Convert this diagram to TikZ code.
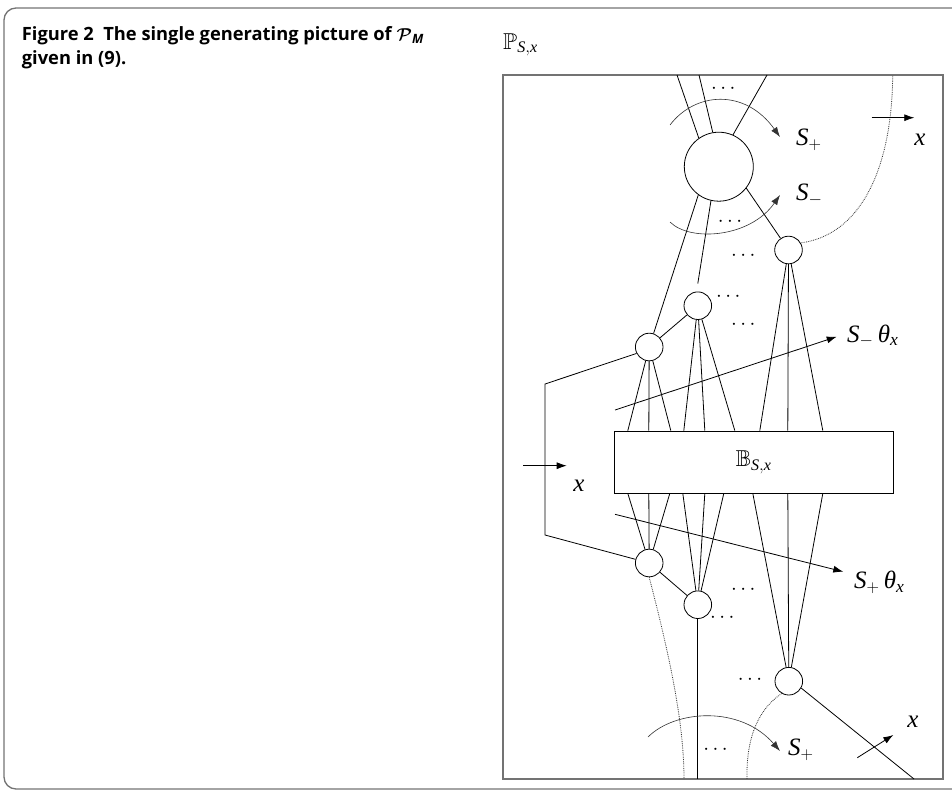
\documentclass[tikz,border=0pt]{standalone}
\usepackage{amsmath}
\usepackage{amssymb}
\usepackage{bm}
\usepackage{fontspec}
\setmainfont{Liberation Serif}
\setsansfont{Open Sans}
\usepackage{tikz}
\usetikzlibrary{arrows.meta, positioning}
\definecolor{cframe}{rgb}{0.45,0.45,0.45}
\definecolor{ctrace}{rgb}{0.2,0.2,0.2}
\newcommand{\vS}{\textit{S}}
\newcommand{\vx}{\textit{x}}
\tikzset{
Vertex/.style={
	draw, circle,
	line width=0.8pt,
	minimum size=27.6pt,
	inner sep=0pt
},
BigVertex/.style={
	Vertex,
	minimum size=69pt
},
Edge/.style={
	draw=black,
	line width=0.8pt
},
Trace/.style={
	draw=ctrace,
	line width=0.8pt,
	densely dotted
},
Sweep/.style={
	draw=ctrace,
	line width=0.6pt,
	-{Latex[length=10pt,width=7pt]}
},
Move/.style={
	Edge,
	-{Latex[length=10pt,width=7pt]}
},
Block/.style={
	draw,
	line width=0.8pt,
	minimum width=279pt,
	minimum height=62pt,
	font=\fontsize{23}{27}\selectfont
},
Lbl/.style={
	inner sep=0pt,
	font=\fontsize{25}{29}\selectfont
},
Dots/.style={
	inner sep=0pt,
	font=\fontsize{22}{26}\selectfont
},
Caption/.style={
	inner sep=0pt,
	anchor=base west,
	font=\sffamily\bfseries\fontsize{18.3}{21}\selectfont
}
}

\begin{document}
\begin{tikzpicture}[x=1pt, y=-1pt]
	\clip (0,0) rectangle (952,795);
	\draw[cframe, line width=1.3pt, rounded corners=12pt] (4,8) rectangle (990,789);
	\draw[cframe, line width=1.5pt] (503,75) rectangle (943,779);

	\node[Caption] (title1) at (21.7,40) {Figure 2\ \ The single generating picture of $\bm{\mathcal{P}}_{\textit{M}}$};
	\node[Caption] (title2) at ([yshift=-24.5pt]title1.base west) {given in (9).};
	\node[Lbl, anchor=base west, font=\fontsize{23}{27}\selectfont] (pname) at (503,49) {$\mathbb{P}_{\vS,\vx}$};

	\node[BigVertex] (big) at (718.8,166.7) {};
	\node[Vertex] (cr) at (788.5,250) {};
	\node[Vertex] (cb) at (697.8,305.7) {};
	\node[Vertex] (ca) at (649.2,347) {};
	\node[Block] (box) at (753.7,462) {$\mathbb{B}_{\vS,\vx}$};
	\node[Vertex] (cd) at (649.2,563) {};
	\node[Vertex] (ce) at (697.8,604.7) {};
	\node[Vertex] (cf) at (788.8,681.2) {};

	\coordinate (top1) at (677,75);
	\coordinate (top2) at (699,75);
	\coordinate (top3) at (767,75);
	\coordinate (tr) at (892.7,75);
	\coordinate (lt) at (545,384);
	\coordinate (lb) at (545,535);
	\coordinate (bd) at (684,779);
	\coordinate (be) at (697.8,779);
	\coordinate (bf) at (747,779);
	\coordinate (bx) at (914,779);
	\coordinate (ma1) at (615,410);
	\coordinate (ma2) at (836.7,336.7);
	\coordinate (pa1) at (615,514.3);
	\coordinate (pa2) at (843.3,571.7);
	\coordinate (xr1) at (871.7,117.7);
	\coordinate (xr2) at (914.3,117.7);
	\coordinate (xl1) at (523.3,465.7);
	\coordinate (xl2) at (566.7,465.7);
	\coordinate (xb1) at (857.3,757.7);
	\coordinate (xb2) at (893.3,735);
	\coordinate (s1) at (670,125);
	\coordinate (s2) at (780,137);
	\coordinate (m1) at (670,222);
	\coordinate (m2) at (780,195);
	\coordinate (q1) at (648,737);
	\coordinate (q2) at (780,751);

	\draw[Edge] (big.125) -- (top1);
	\draw[Edge] (big.100) -- (top2);
	\draw[Edge] (big.66) -- (top3);
	\draw[Edge] (big.234) -- (ca);
	\draw[Edge] (big.257) -- ([yshift=8pt]cb.north);
	\draw[Edge] (big.322) -- (cr);
	\draw[Edge] (ca) -- (cb);
	\draw[Edge] (cd) -- (ce);
	\draw[Edge] (ca.207) -- (lt) -- (lb) -- (cd);
	\draw[Edge] (ce) -- (be);
	\draw[Edge] (cf.331) -- (bx);

	\foreach \dx in {14,35,57} \draw[Edge] (ca) -- ([xshift=\dx pt]box.north west);
	\foreach \dx in {70,91,121} \draw[Edge] (cb) -- ([xshift=\dx pt]box.north west);
	\foreach \dx in {146,174,209} \draw[Edge] (cr) -- ([xshift=\dx pt]box.north west);
	\foreach \dx in {14,35,56} \draw[Edge] (cd) -- ([xshift=\dx pt]box.south west);
	\foreach \dx in {69,91,110} \draw[Edge] (ce) -- ([xshift=\dx pt]box.south west);
	\foreach \dx in {139,174,209} \draw[Edge] (cf) -- ([xshift=\dx pt]box.south west);

	\draw[Trace] (cr.30) .. controls (860,235) and (892,170) .. (tr);
	\draw[Trace] (cd.270) .. controls (668,650) and (684,720) .. (bd);
	\draw[Trace] (cf.240) .. controls (760,708) and (746,735) .. (bf);

	\draw[Sweep] (s1) .. controls (695,92) and (745,88) .. (s2);
	\draw[Sweep] (m1) .. controls (690,242) and (750,238) .. (m2);
	\draw[Sweep] (q1) .. controls (675,710) and (740,705) .. (q2);

	\draw[Move] (ma1) -- (ma2);
	\draw[Move] (pa1) -- (pa2);
	\draw[Move] (xr1) -- (xr2);
	\draw[Move] (xl1) -- (xl2);
	\draw[Move] (xb1) -- (xb2);

	\node[Lbl, anchor=west] (splus) at (796,140) {$\vS_+$};
	\node[Lbl, anchor=west] (sminus) at (796,195) {$\vS_-$};
	\node[Lbl, anchor=west] (smtheta) at (847,336) {$\vS_-\,\textit{θ}_{\vx}$};
	\node[Lbl, anchor=west] (sptheta) at (854,582) {$\vS_+\,\textit{θ}_{\vx}$};
	\node[Lbl, anchor=west] (splusb) at (788,750) {$\vS_+$};
	\node[Lbl] (xr) at (920,140) {\vx};
	\node[Lbl] (xl) at (579,486) {\vx};
	\node[Lbl] (xb) at (913,722) {\vx};

	\node[Dots] (d1) at (725,89) {$\cdots$};
	\node[Dots] (d2) at (731.7,221.7) {$\cdots$};
	\node[Dots] (d3) at (745,256) {$\cdots$};
	\node[Dots] (d4) at (730,297.3) {$\cdots$};
	\node[Dots] (d5) at (745,325) {$\cdots$};
	\node[Dots] (d6) at (745,590) {$\cdots$};
	\node[Dots] (d7) at (724,618.3) {$\cdots$};
	\node[Dots] (d8) at (751.7,680) {$\cdots$};
	\node[Dots] (d9) at (717.3,750) {$\cdots$};
\end{tikzpicture}
\end{document}
